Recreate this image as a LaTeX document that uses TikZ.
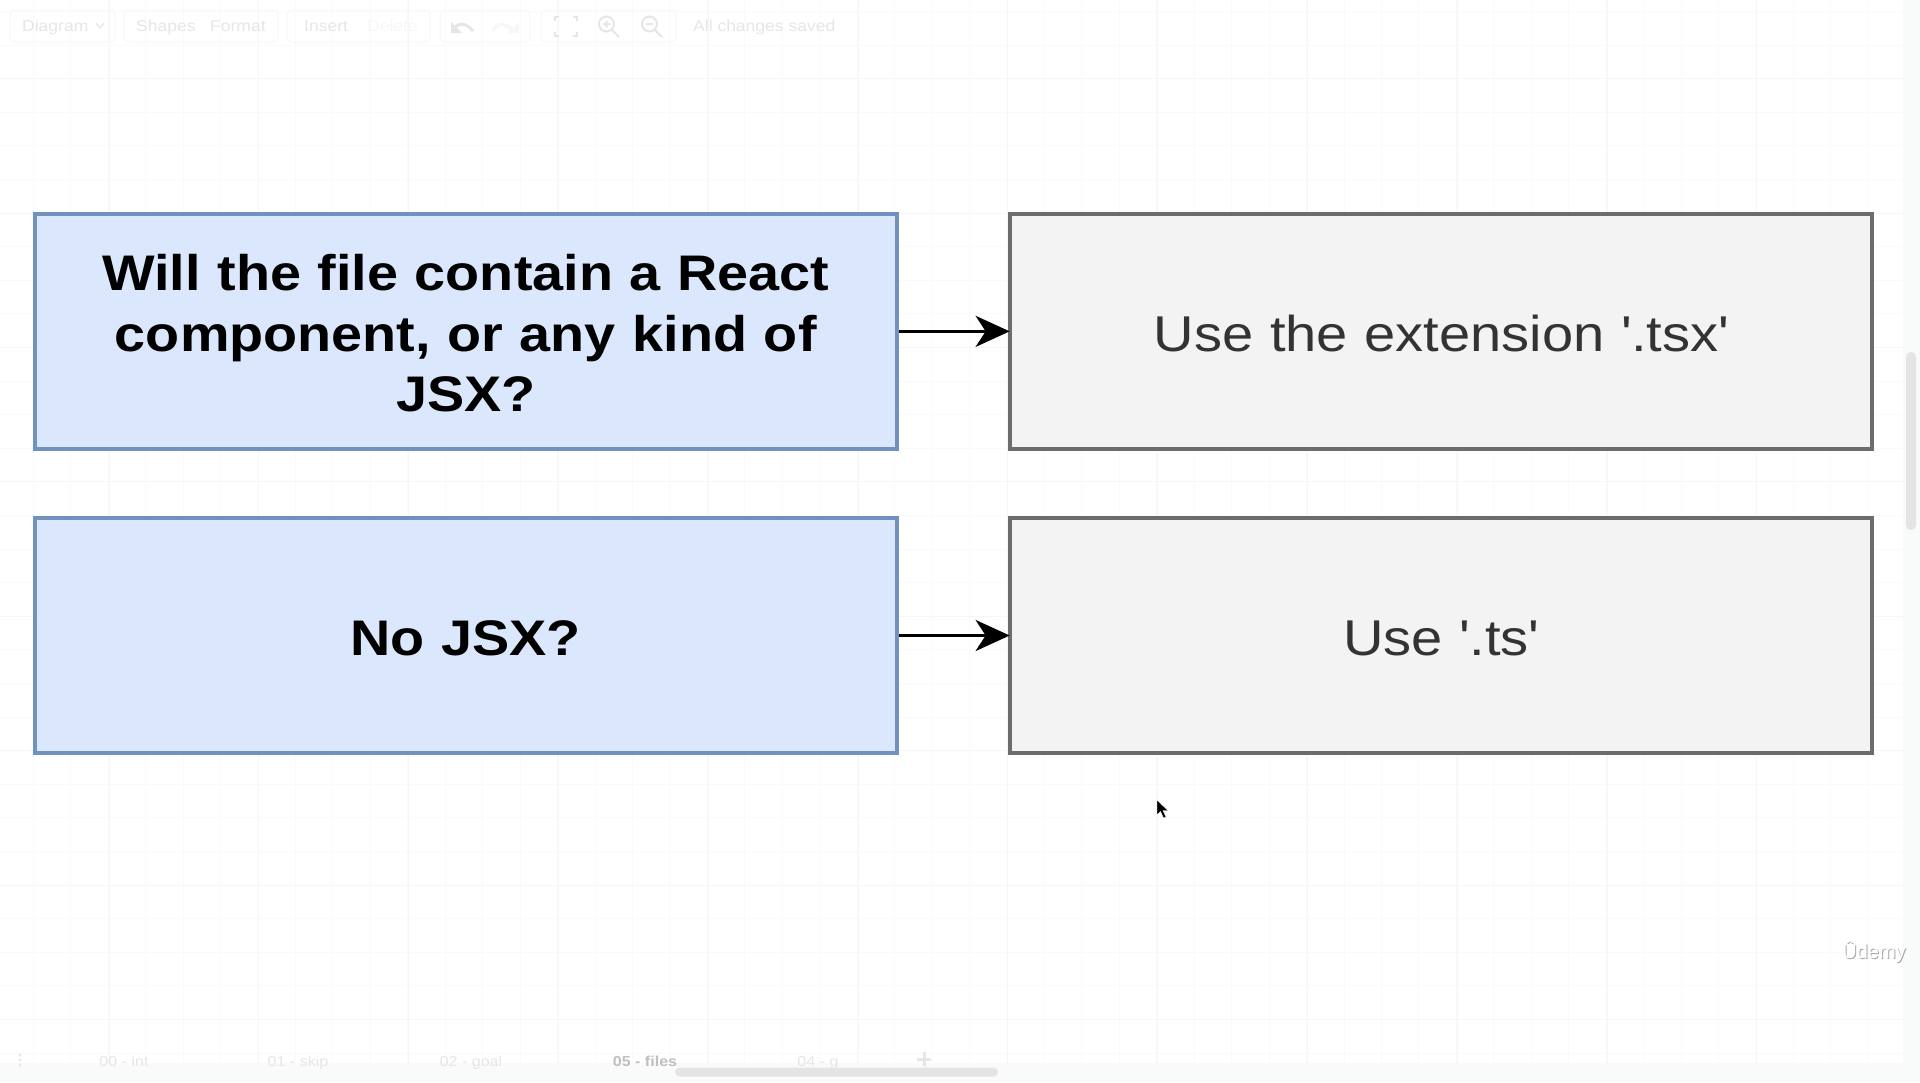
\documentclass[tikz,border=0pt]{standalone}
\usepackage{fontspec}
\setmainfont{Liberation Sans}
\usetikzlibrary{arrows.meta}
\definecolor{qfill}{HTML}{DAE7FC}
\definecolor{qline}{HTML}{7391BF}
\definecolor{afill}{HTML}{F3F3F3}
\definecolor{aline}{HTML}{6C6C6C}
\definecolor{atext}{HTML}{333333}
\definecolor{gridA}{HTML}{FAFAFA}
\definecolor{gridB}{HTML}{F6F6F6}
\definecolor{uitext}{HTML}{E6E6E6}
\definecolor{uipanel}{HTML}{F7F7F7}
\definecolor{band}{HTML}{F9FAFA}
\definecolor{scrollc}{HTML}{E4E4E4}
\newcommand\boxtopstrut{\rule{0pt}{41pt}}
\newcommand\boxbotstrut{\rule[-1.7pt]{0pt}{1.7pt}}
\tikzset{
  x=1pt,y=-1pt,
  flowbox/.style={rectangle,draw,line width=4pt,minimum width=862.4pt,minimum height=235.3pt,
    inner sep=0pt,align=center,text width=800pt},
  question/.style={flowbox,fill=qfill,draw=qline,text=black,font=\fontsize{50}{60.6}\selectfont\bfseries\addfontfeature{FakeStretch=1.115}},
  answer/.style={flowbox,fill=afill,draw=aline,text=atext,font=\fontsize{50.3}{60.6}\selectfont\addfontfeature{FakeStretch=1.115}},
  flowarrow/.style={draw=black,line width=3.2pt,-{Stealth[length=34pt,width=31pt,inset=10pt]},shorten >=-2pt},
  uilabel/.style={inner sep=0pt,anchor=base west,text=uitext,font=\fontsize{15.7}{20}\selectfont\addfontfeature{FakeStretch=1.115}},
  tablabel/.style={uilabel,anchor=base,font=\fontsize{14.4}{20}\selectfont\addfontfeature{FakeStretch=1.115}},
  uiframe/.style={draw=uipanel,line width=1pt,rounded corners=5pt},
  uiicon/.style={draw=uitext,line width=2pt},
}
\begin{document}
\begin{tikzpicture}
\useasboundingbox (0,0) rectangle (1920,1082);
\fill[white] (0,0) rectangle (1920,1082);
% background grid
\foreach \k in {-1,...,50}{
  \pgfmathsetmacro\gx{33.3+37.45*\k}
  \draw[gridA,line width=1pt] (\gx,0) -- (\gx,1082);
}
\foreach \k in {-6,...,26}{
  \pgfmathsetmacro\gy{213+33.6*\k}
  \draw[gridA,line width=1pt] (0,\gy) -- (1920,\gy);
}
\foreach \k in {0,...,12}{
  \pgfmathsetmacro\gx{109+149.8*\k}
  \draw[gridB,line width=1pt] (\gx,0) -- (\gx,1082);
}
\foreach \k in {-1,...,6}{
  \pgfmathsetmacro\gy{213+134.4*\k}
  \draw[gridB,line width=1pt] (0,\gy) -- (1920,\gy);
}
% side and bottom bands
\fill[band] (1903,0) rectangle (1920,1082);
\fill[band] (0,1063) rectangle (1920,1082);
\fill[scrollc,rounded corners=5pt] (1906,352) rectangle (1916,530);
\fill[scrollc,rounded corners=4.5pt] (675,1067.5) rectangle (998,1076.5);
% toolbar
\foreach \a/\b in {10/115,124/278,287/430,440/530,541/676}{
  \draw[uiframe] (\a,10) rectangle (\b,42);
}
\node[uilabel] (tDiagram) at (22,31) {Diagram};
\node[uilabel] (tShapes) at (136,31) {Shapes};
\node[uilabel] (tFormat) at (210,31) {Format};
\node[uilabel] (tInsert) at (304,31) {Insert};
\node[uilabel,text=uipanel] (tDelete) at (367,31) {Delete};
\node[uilabel] (tSaved) at (693,31) {All changes saved};
\draw[uitext,line width=1.2pt] (96,23) -- (100,28) -- (104,23);
\draw[uiicon,line width=3pt] (453,31) .. controls (456,23) and (465,21) .. (473,31);
\fill[uitext] (451,22) -- (451,33) -- (462,33) -- cycle;
\draw[uipanel,line width=3pt] (513,31) .. controls (505,21) and (496,23) .. (493,31);
\fill[uipanel] (519,22) -- (519,33) -- (508,33) -- cycle;
\draw[uiicon] (555,21) -- (555,17) -- (559,17) (573,17) -- (577,17) -- (577,21)
  (577,32) -- (577,36) -- (573,36) (559,36) -- (555,36) -- (555,32);
\draw[uiicon] (606.5,24) circle (7.5) (612,30) -- (619,37)
  (603,24) -- (610,24) (606.5,20.5) -- (606.5,27.5);
\draw[uiicon] (649.5,24) circle (7.5) (655,30) -- (662,37) (646,24) -- (653,24);
% bottom tabs
\node[tablabel] (tab0) at (124,1066) {00 - int};
\node[tablabel] (tab1) at (298,1066) {01 - skip};
\node[tablabel] (tab2) at (471,1066) {02 - goal};
\node[tablabel,text=black!25,font=\fontsize{14.4}{20}\selectfont\bfseries\addfontfeature{FakeStretch=1.115}] (tab5) at (645,1066) {05 - files};
\node[tablabel] (tab4) at (818,1066) {04 - g};
\draw[uitext,line width=3pt] (924,1052) -- (924,1066) (917,1059) -- (931,1059);
\foreach \yy in {1055,1060,1065}{\fill[uitext] (20,\yy) circle (1.7);}
% flow
\node[question] (q1) at (465.75,331.35) {\boxtopstrut Will the file contain a React\\component, or any kind of\\JSX?\boxbotstrut};
\node[answer] (a1) at (1440.85,331.35) {\boxtopstrut Use the extension \textquotesingle.tsx\textquotesingle\boxbotstrut};
\node[question] (q2) at (465.75,635.5) {\boxtopstrut No JSX?\boxbotstrut};
\node[answer] (a2) at (1440.85,635.5) {\boxtopstrut Use \textquotesingle.ts\textquotesingle\boxbotstrut};
\draw[flowarrow] (q1) -- (a1);
\draw[flowarrow] (q2) -- (a2);
% pointer
\fill[black,draw=white,line width=0.4pt] (1157,800) -- (1157,815) -- (1160.5,811.5) -- (1163.5,818) -- (1166,817) -- (1163,810.5) -- (1168,810.5) -- cycle;
% watermark
\node[inner sep=0pt,text=black!35,font=\fontsize{20}{20}\selectfont] (wmS) at (1875,953) {Ûdemy};
\node[inner sep=0pt,text=white,font=\fontsize{20}{20}\selectfont] (wm) at (1874,952) {Ûdemy};
\end{tikzpicture}
\end{document}
